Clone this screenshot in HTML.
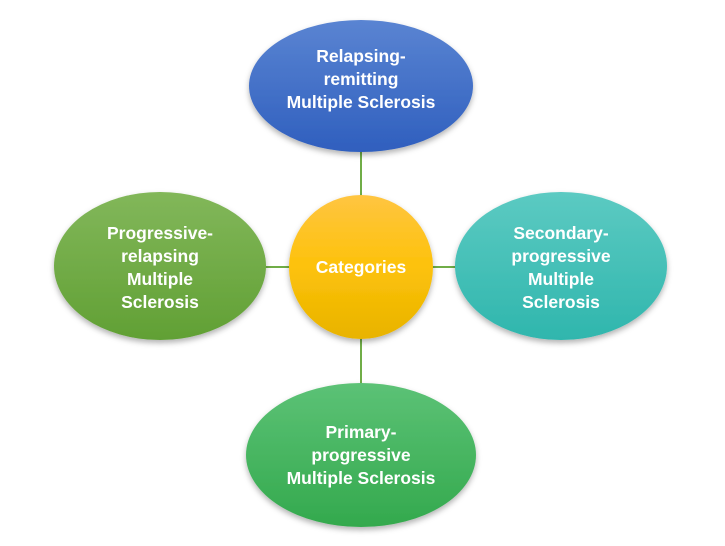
<!DOCTYPE html>
<html><head><style>
html,body{margin:0;padding:0;background:#fff;}
svg text{font-family:"Liberation Sans",sans-serif;font-weight:bold;font-size:17.5px;fill:#fff;text-anchor:middle;}
</style></head><body>
<svg width="725" height="541" viewBox="0 0 725 541" xmlns="http://www.w3.org/2000/svg">
<defs>
<linearGradient id="gb" x1="0" y1="0" x2="0" y2="1"><stop offset="0" stop-color="#5a84d2"/><stop offset="1" stop-color="#2f5fbe"/></linearGradient>
<linearGradient id="gy" x1="0" y1="0" x2="0" y2="1"><stop offset="0" stop-color="#ffc541"/><stop offset="0.5" stop-color="#fdc20a"/><stop offset="1" stop-color="#e8b300"/></linearGradient>
<linearGradient id="gl" x1="0" y1="0" x2="0" y2="1"><stop offset="0" stop-color="#82b75a"/><stop offset="1" stop-color="#61a034"/></linearGradient>
<linearGradient id="gt" x1="0" y1="0" x2="0" y2="1"><stop offset="0" stop-color="#5ccac2"/><stop offset="1" stop-color="#2fb6ad"/></linearGradient>
<linearGradient id="gg" x1="0" y1="0" x2="0" y2="1"><stop offset="0" stop-color="#5cc276"/><stop offset="1" stop-color="#33a94d"/></linearGradient>
<filter id="sh" x="-20%" y="-20%" width="140%" height="150%"><feDropShadow dx="0" dy="3" stdDeviation="3" flood-color="#000" flood-opacity="0.3"/></filter>
</defs>
<g stroke="#70ad47" stroke-width="2">
<line x1="361" y1="150" x2="361" y2="200"/>
<line x1="361" y1="335" x2="361" y2="385"/>
<line x1="262" y1="267" x2="292" y2="267"/>
<line x1="430" y1="267" x2="458" y2="267"/>
</g>
<g filter="url(#sh)">
<ellipse cx="361" cy="86" rx="112" ry="66" fill="url(#gb)"/>
<ellipse cx="160" cy="266" rx="106" ry="74" fill="url(#gl)"/>
<ellipse cx="561" cy="266" rx="106" ry="74" fill="url(#gt)"/>
<ellipse cx="361" cy="455" rx="115" ry="72" fill="url(#gg)"/>
<circle cx="361" cy="267" r="72" fill="url(#gy)"/>
</g>
<text x="361" y="62">Relapsing-</text>
<text x="361" y="85">remitting</text>
<text x="361" y="108">Multiple Sclerosis</text>
<text x="361" y="273">Categories</text>
<text x="160" y="239">Progressive-</text>
<text x="160" y="262">relapsing</text>
<text x="160" y="285">Multiple</text>
<text x="160" y="308">Sclerosis</text>
<text x="561" y="239">Secondary-</text>
<text x="561" y="262">progressive</text>
<text x="561" y="285">Multiple</text>
<text x="561" y="308">Sclerosis</text>
<text x="361" y="438">Primary-</text>
<text x="361" y="461">progressive</text>
<text x="361" y="484">Multiple Sclerosis</text>
</svg>
</body></html>
